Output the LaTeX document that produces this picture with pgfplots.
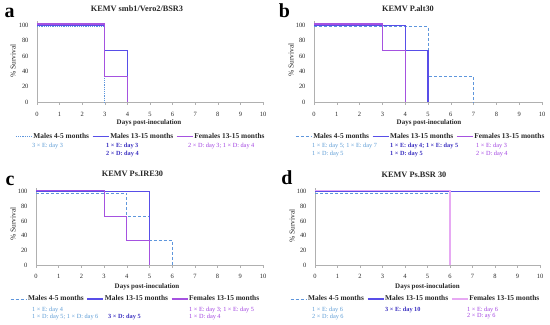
\documentclass[border=0pt]{standalone}
\usepackage{pgfplots}
\pgfplotsset{compat=1.18}
\usepackage{fontspec}
\setmainfont{Liberation Serif}
\definecolor{colyoung}{RGB}{94,150,220}
\definecolor{colold}{RGB}{88,78,232}
\definecolor{colfem}{RGB}{165,82,224}
\definecolor{colfemd}{RGB}{231,169,243}
\definecolor{txtyoung}{RGB}{91,155,213}
\definecolor{txtold}{RGB}{58,47,192}
\definecolor{txtfem}{RGB}{160,64,224}
\definecolor{axg}{RGB}{176,176,176}
\pgfplotsset{
  km/.style={
    scale only axis, xmin=0, xmax=10, ymin=0, ymax=105,
    axis x line=bottom, axis y line=left,
    axis line style={-, draw=axg, line width=0.6bp},
    xtick={0,...,10}, ytick={0,20,...,100},
    tick align=outside, major tick length=2.5bp,
    xtick style={draw=axg, line width=0.5bp}, ytick style={draw=none},
    ticklabel style={font=\fontsize{6.5}{7}\selectfont, text=black!85},
    xticklabel style={yshift=-3.5bp},
    yticklabel style={xshift=-2.5bp},
    /pgf/number format/assume math mode=true,
    legend columns=3,
    legend cell align=left,
    legend style={draw=none, fill=none, inner sep=0pt, anchor=west,
      font=\bfseries\fontsize{7.4}{8}\selectfont, text=black!85,
      nodes={inner sep=1bp},
      /tikz/every even column/.append style={column sep=2bp}},
    legend image code/.code={\draw[##1] (0bp,0bp) -- (16bp,0bp);},
    clip=false,
  },
  youngdash/.style={draw=colyoung, line width=1bp, dash pattern=on 3bp off 2bp},
  youngdot/.style={draw=colyoung, line width=1.1bp, dash pattern=on 1.2bp off 1bp},
  oldline/.style={draw=colold, line width=1.2bp},
  femline/.style={draw=colfem, line width=1.1bp},
  femlined/.style={draw=colfemd, line width=1.1bp},
}
\begin{document}
\begin{tikzpicture}[x=1bp,y=1bp]
\path[use as bounding box] (0bp,0bp) rectangle (550bp,-325bp);
% ---------- panel a
\begin{axis}[km, at={(37bp,-102.3bp)}, anchor=south west, width=226bp, height=81bp,
  legend style={at={(axis description cs:-0.097,-0.426)}}]
\addplot[youngdot] coordinates {(0,98)(3,98)(3,0)};
\addplot[oldline] coordinates {(0,100)(3,100)(3,66.7)(4,66.7)(4,0)};
\addplot[femline] coordinates {(0,101.5)(3,101.5)(3,33.3)(4,33.3)(4,0)};
\legend{Males 4-5 months, Males 13-15 months, Females 13-15 months}
\end{axis}
% ---------- panel b
\begin{axis}[km, at={(314bp,-102.3bp)}, anchor=south west, width=228bp, height=81bp,
  legend style={at={(axis description cs:-0.083,-0.426)}}]
\addplot[youngdash] coordinates {(0,98)(5,98)(5,33.3)(7,33.3)(7,0)};
\addplot[oldline] coordinates {(0,100)(4,100)(4,66.7)(5,66.7)(5,0)};
\addplot[femline] coordinates {(0,101.5)(3,101.5)(3,66.7)(4,66.7)(4,0)};
\legend{Males 4-5 months, Males 13-15 months, Females 13-15 months}
\end{axis}
% ---------- panel c
\begin{axis}[km, at={(36bp,-265bp)}, anchor=south west, width=227bp, height=77bp,
  legend style={at={(axis description cs:-0.115,-0.442)}}]
\addplot[youngdash] coordinates {(0,98)(4,98)(4,66.7)(5,66.7)(5,33.3)(6,33.3)(6,0)};
\addplot[oldline] coordinates {(0,100)(5,100)(5,0)};
\addplot[femline] coordinates {(0,101.5)(3,101.5)(3,66.7)(4,66.7)(4,33.3)(5,33.3)(5,0)};
\legend{Males 4-5 months, Males 13-15 months, Females 13-15 months}
\end{axis}
% ---------- panel d
\begin{axis}[km, at={(315bp,-265bp)}, anchor=south west, width=225bp, height=77bp,
  legend style={at={(axis description cs:-0.111,-0.442)}}]
\addplot[youngdash] coordinates {(0,98)(6,98)(6,0)};
\addplot[oldline] coordinates {(0,100)(10,100)};
\addplot[femlined] coordinates {(0,101.5)(6,101.5)(6,0)};
\legend{Males 4-5 months, Males 13-15 months, Females 13-15 months}
\end{axis}
% ---------- titles, labels
\begin{scope}[every node/.style={inner sep=0pt, text=black!85}]
\node[font=\bfseries\fontsize{8.3}{9}\selectfont] at (137bp,-8.5bp) {KEMV smb1/Vero2/BSR3};
\node[font=\bfseries\fontsize{8.3}{9}\selectfont] at (408bp,-9bp) {KEMV P.alt30};
\node[font=\bfseries\fontsize{8.3}{9}\selectfont] at (132.5bp,-174bp) {KEMV Ps.IRE30};
\node[font=\bfseries\fontsize{8.3}{9}\selectfont] at (414bp,-174.5bp) {KEMV Ps.BSR 30};
\node[font=\bfseries\fontsize{20}{22}\selectfont, anchor=base, text=black] at (9.5bp,-17bp) {a};
\node[font=\bfseries\fontsize{20}{22}\selectfont, anchor=base, text=black] at (284.5bp,-17bp) {b};
\node[font=\bfseries\fontsize{20}{22}\selectfont, anchor=base, text=black] at (10bp,-185bp) {c};
\node[font=\bfseries\fontsize{20}{22}\selectfont, anchor=base, text=black] at (287bp,-184bp) {d};
\node[font=\bfseries\fontsize{7}{8}\selectfont] at (149bp,-123bp) {Days post-inoculation};
\node[font=\bfseries\fontsize{7}{8}\selectfont] at (429bp,-123bp) {Days post-inoculation};
\node[font=\bfseries\fontsize{7}{8}\selectfont] at (147bp,-287bp) {Days post-inoculation};
\node[font=\bfseries\fontsize{7}{8}\selectfont] at (427.5bp,-287bp) {Days post-inoculation};
\node[font=\fontsize{7.5}{8}\selectfont, rotate=90] at (13bp,-61bp) {\% Survival};
\node[font=\fontsize{7.5}{8}\selectfont, rotate=90] at (291bp,-60bp) {\% Survival};
\node[font=\fontsize{7.5}{8}\selectfont, rotate=90] at (13bp,-224bp) {\% Survival};
\node[font=\fontsize{7.5}{8}\selectfont, rotate=90] at (292bp,-226bp) {\% Survival};
\end{scope}
% ---------- annotations
\begin{scope}[every node/.style={inner sep=0pt, anchor=west, font=\fontsize{6.3}{7}\selectfont}]
% a
\node[text=txtyoung] at (32bp,-146bp) {3 × E: day 3};
\node[text=txtold, font=\bfseries\fontsize{6.3}{7}\selectfont] at (106bp,-146bp) {1 × E: day 3};
\node[text=txtold, font=\bfseries\fontsize{6.3}{7}\selectfont] at (106bp,-153.5bp) {2 × D: day 4};
\node[text=txtfem] at (188bp,-146bp) {2 × D: day 3; 1 × D: day 4};
% b
\node[text=txtyoung] at (312bp,-146bp) {1 × E: day 5; 1 × E: day 7};
\node[text=txtyoung] at (312bp,-153.5bp) {1 × D: day 5};
\node[text=txtold, font=\bfseries\fontsize{6.3}{7}\selectfont] at (390bp,-146bp) {1 × E: day 4; 1 × E: day 5};
\node[text=txtold, font=\bfseries\fontsize{6.3}{7}\selectfont] at (390bp,-153.5bp) {1 × D: day 5};
\node[text=txtfem] at (476bp,-146bp) {1 × E: day 3};
\node[text=txtfem] at (476bp,-153.5bp) {2 × D: day 4};
% c
\node[text=txtyoung] at (32bp,-309.5bp) {1 × E: day 4};
\node[text=txtyoung] at (32bp,-316.5bp) {1 × D: day 5; 1 × D: day 6};
\node[text=txtold, font=\bfseries\fontsize{6.3}{7}\selectfont] at (108bp,-316.5bp) {3 × D: day 5};
\node[text=txtfem] at (189bp,-309.5bp) {1 × E: day 3; 1 × E: day 5};
\node[text=txtfem] at (189bp,-316.5bp) {1 × D: day 4};
% d
\node[text=txtyoung] at (312bp,-309.5bp) {1 × E: day 6};
\node[text=txtyoung] at (312bp,-316.5bp) {2 × D: day 6};
\node[text=txtold, font=\bfseries\fontsize{6.3}{7}\selectfont] at (385bp,-309.5bp) {3 × E: day 10};
\node[text=txtfem] at (467bp,-309.5bp) {1 × E: day 6};
\node[text=txtfem] at (467bp,-316.5bp) {2 × D: ay 6};
\end{scope}
\end{tikzpicture}
\end{document}
